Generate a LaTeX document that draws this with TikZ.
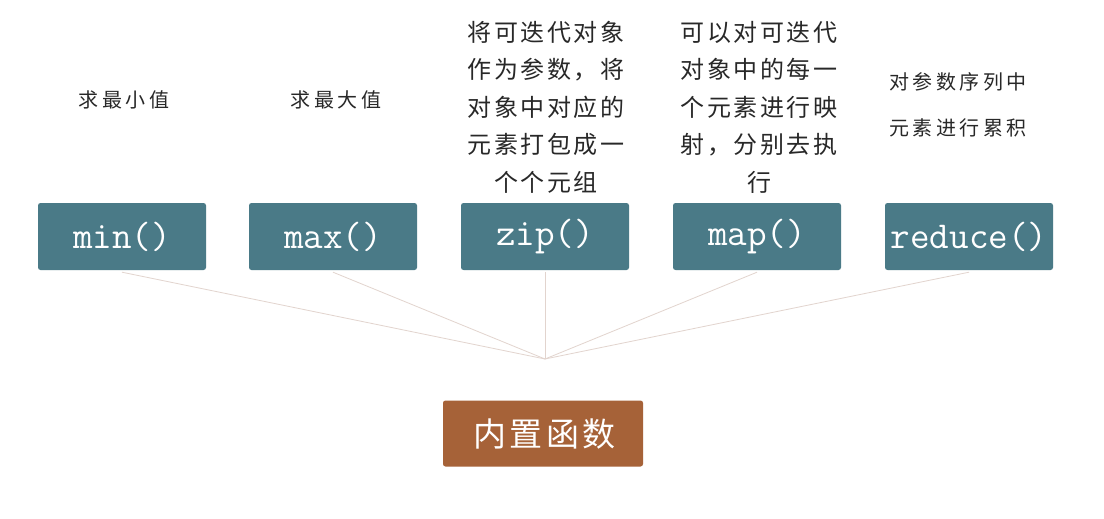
\documentclass[tikz,border=0pt]{standalone}
\usepackage{fontspec}
\newfontfamily\cjkA[LetterSpace=11]{Noto Sans CJK SC}
\newfontfamily\cjkB[LetterSpace=17]{Noto Sans CJK SC}
\newfontfamily\cjkC[LetterSpace=10]{Noto Sans CJK SC}
\definecolor{tealbox}{RGB}{74,122,135}
\definecolor{brownbox}{RGB}{166,98,56}
\definecolor{linkcol}{RGB}{226,212,206}
\definecolor{desctext}{RGB}{40,40,40}
\begin{document}
\begin{tikzpicture}[x=1pt,y=-1pt,
  fbox/.style={fill=tealbox, rounded corners=2.5pt, minimum width=168pt, minimum height=67pt, inner sep=0pt, text=white, font=\ttfamily\fontsize{38}{40}\selectfont},
  rootbox/.style={fill=brownbox, rounded corners=2.5pt, minimum width=200pt, minimum height=66pt, inner sep=0pt, text=white, font=\cjkC\fontsize{33}{36}\selectfont},
  shortdesc/.style={text=desctext, inner sep=0pt, align=center, font=\cjkB\fontsize{20}{46}\selectfont},
  longdesc/.style={text=desctext, inner sep=0pt, align=center, font=\cjkA\fontsize{24}{37.5}\selectfont},
  link/.style={draw=linkcol, line width=0.8pt}]
\useasboundingbox (0,0) rectangle (1104,519);
\fill[white] (0,0) rectangle (1104,519);

\node[fbox] (min) at (122,236.5) {\raisebox{-3pt}{min()}};
\node[fbox] (max) at (333,236.5) {\raisebox{-3pt}{max()}};
\node[fbox] (zip) at (545,236.5) {\raisebox{-3pt}{zip()}};
\node[fbox] (map) at (757,236.5) {\raisebox{-3pt}{map()}};
\node[fbox] (reduce) at (969,236.5) {\raisebox{-3pt}{reduce()}};

\node[rootbox] (root) at (543,433.5) {\hspace{3pt}内置函数};

\node[shortdesc] (dmin) at (124,100) {求最小值};
\node[shortdesc] (dmax) at (336,100) {求最大值};
\node[longdesc] (dzip) at (546,107) {将可迭代对象\\作为参数，将\\对象中对应的\\元素打包成一\\个个元组};
\node[longdesc] (dmap) at (759,107) {可以对可迭代\\对象中的每一\\个元素进行映\\射，分别去执\\行};
\node[shortdesc] (dreduce) at (958,105) {对参数序列中\\元素进行累积};

\coordinate (hub) at (545,359);
\foreach \n in {min,max,zip,map,reduce}{
  \draw[link] ([yshift=-2pt]\n.south) -- (hub);
}
\end{tikzpicture}
\end{document}
